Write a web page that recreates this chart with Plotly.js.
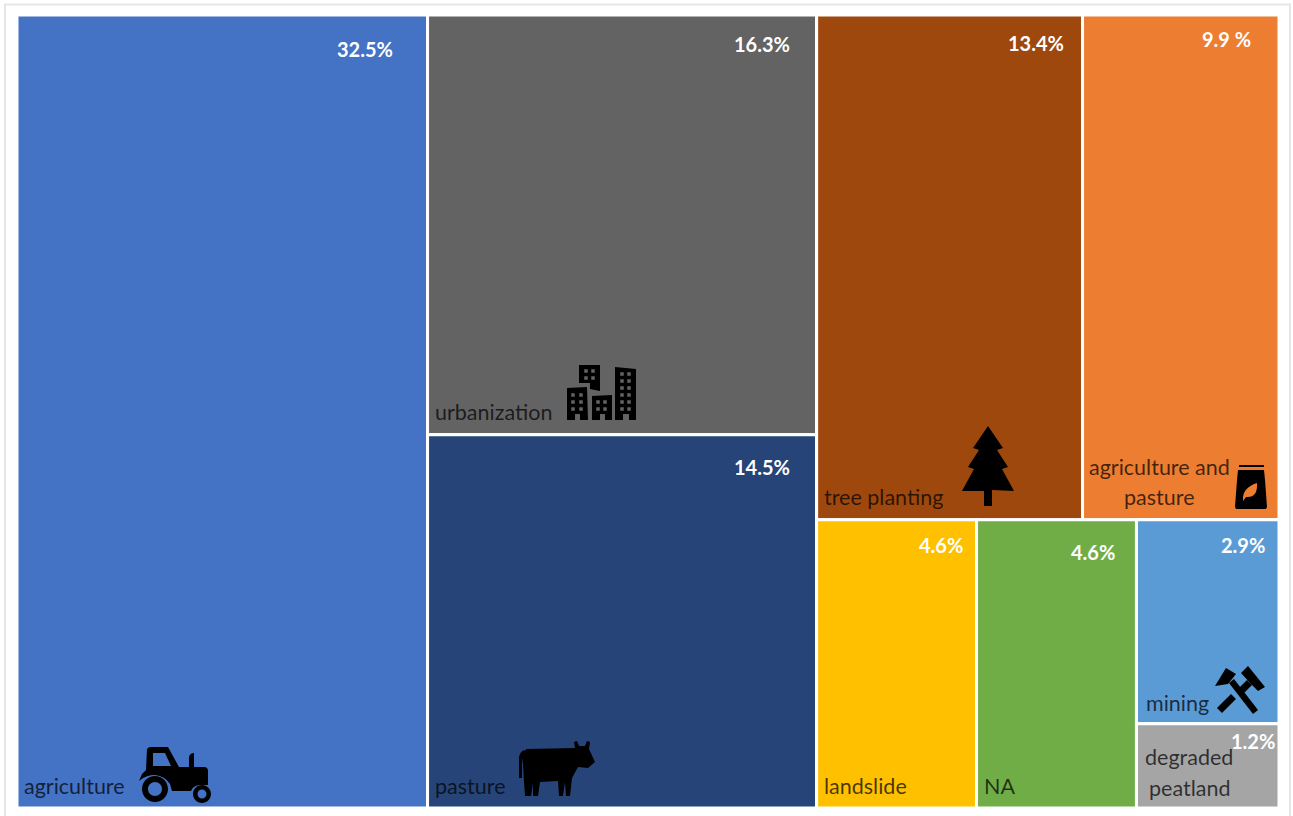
<!DOCTYPE html>
<html>
<head>
<meta charset="utf-8">
<title>Land use share treemap</title>
<script src="https://cdn.plot.ly/plotly-3.0.1.min.js"></script>
<style>html,body{margin:0;padding:0;background:#fff}#chart{width:1293px;height:816px}</style>
</head>
<body>
<div id="chart"></div>
<script>
// Hierarchy of the treemap: grouping nodes carry no value of their own.
const ids = ['root','agriculture','col2','urbanization','pasture','col3','top','tree planting','agriculture and pasture','bottom','landslide','NA','col4','mining','degraded peatland'];
const parents = ['','root','root','col2','col2','root','col3','top','top','col3','bottom','bottom','bottom','col4','col4'];
const values = [0,32.5,0,16.3,14.5,0,0,13.4,9.9,0,4.6,4.6,0,2.9,1.2];
const colours = ['#ffffff','#4472C4','#ffffff','#636363','#264478','#ffffff','#ffffff','#9E480E','#ED7D31','#ffffff','#FFC000','#70AD47','#ffffff','#5B9BD5','#A5A5A5'];

// Share labels, in reading order of the tiles.
const shareLabels = ['32.5%','16.3%','14.5%','13.4%','9.9 %','4.6%','4.6%','2.9%','1.2%'];
const nameLabels = ['agriculture','urbanization','pasture','tree planting','agriculture and','pasture','landslide','NA','mining','degraded','peatland'];

const W = 1293, H = 816;
const M = {l: 17, r: 14, t: 15, b: 8};
const px = x => (x - M.l) / (W - M.l - M.r);
const py = y => 1 - (y - M.t) / (H - M.t - M.b);

// Rewrites an icon outline given in page pixels into paper coordinates.
function toPaper(d) {
  let isX = true;
  return d.replace(/-?\d+(\.\d+)?/g, n => {
    const v = isX ? px(+n) : py(+n);
    isX = !isX;
    return v.toFixed(5);
  });
}
function circle(cx, cy, r) {
  const k = 0.5523 * r;
  return `M${cx - r} ${cy} C${cx - r} ${cy - k} ${cx - k} ${cy - r} ${cx} ${cy - r} C${cx + k} ${cy - r} ${cx + r} ${cy - k} ${cx + r} ${cy} C${cx + r} ${cy + k} ${cx + k} ${cy + r} ${cx} ${cy + r} C${cx - k} ${cy + r} ${cx - r} ${cy + k} ${cx - r} ${cy} Z`;
}
function rect(x, y, w, h) {
  return `M${x} ${y} L${x + w} ${y} L${x + w} ${y + h} L${x} ${y + h} Z`;
}
function windows(xs, ys, s) {
  return xs.flatMap(x => ys.map(y => rect(x - s / 2, y - s / 2, s, s))).join(' ');
}

const icons = [
  // tractor
  'M147 749 Q148 747 151 747 L168 747 L179 767 L189 767 L189 757 Q190 753 194 753 L194 767 L205 767 Q208 768 208 771 L208 785 L199 785 Q193 786 191 791 L172 791 L170 784 Q165 776 155 775 Q146 775 139 781 L142 774 L146 770 Z M153 753 L165 753 L171 766 L153 766 Z',
  circle(155, 789, 13) + ' ' + circle(155, 789, 7),
  circle(202, 794, 9) + ' ' + circle(202, 794, 4.5),
  // buildings
  'M579 365 L600 365 L600 391 L590 389 L590 383 L579 383 Z ' + windows([586, 593], [371, 378], 3.5),
  'M567 388 L587 387 L588 420 L580 420 L580 414 L575 414 L575 420 L567 420 Z ' + windows([573, 581], [395, 402, 409], 3.5),
  'M592 396 L612 395 L612 420 L605 420 L605 414 L600 414 L600 420 L592 420 Z ' + windows([598, 605], [402, 409], 3.5),
  'M615 367 L636 369 L636 420 L629 420 L629 414 L623 414 L623 420 L615 420 Z ' + windows([622, 629], [374, 381, 388, 395, 402, 409], 3.5),
  // cow
  'M527 749 L575 748 L574 742 L577 741 L579 746 L585 746 L587 741 L590 742 L589 749 L595 762 L588 768 L578 767 L572 778 L570 796 L566 796 L565 782 L563 796 L559 796 L558 781 L540 782 L538 796 L533 796 L533 783 L531 796 L525 796 L524 782 L523 764 L522 757 Q522 751 527 749 Z',
  'M519 778 L519 757 Q520 752 524 750 L524 755 L522 760 L522 778 Z',
  // tree
  'M988 426 L1003 448 L997 450 L1008 467 L1002 469 L1014 491 L992 490 L992 506 L984 506 L984 491 L962 491 L974 469 L968 467 L979 450 L973 448 Z',
  // bag with leaf cut-out
  'M1239 465 L1264 465 L1264 467 L1239 467 Z',
  'M1238 470 L1264 470 L1265 480 L1267 507 L1266 509 L1236 509 L1235 507 L1237 480 Z M1243 500 Q1242 488 1257 483 Q1258 498 1246 497 L1243 501 Z',
  // crossed hammers
  'M1229 683 L1234 679 L1258 710 L1253 714 Z',
  'M1215 686 L1226 668 L1236 674 L1228 684 Z',
  'M1217 708 L1231 694 L1236 699 L1222 713 Z M1239 688 L1247 680 L1252 685 L1244 693 Z',
  'M1241 673 L1248 666 L1265 687 L1258 691 L1251 684 Z'
];

const shapes = icons.map(d => ({
  type: 'path', xref: 'paper', yref: 'paper', layer: 'above', path: toPaper(d),
  fillcolor: '#000000', fillrule: 'evenodd', line: {width: 0}
}));
// Thin frame around the figure.
shapes.push({
  type: 'rect', xref: 'paper', yref: 'paper', layer: 'above',
  x0: px(5), x1: px(1290), y0: py(830), y1: py(4.5),
  line: {color: '#e6e6e6', width: 2}
});

const shareSpots = [[395, 49], [792, 44], [792, 467], [1066, 43], [1253, 39], [965, 545], [1117, 552], [1267, 545], [1277, 741]];
const nameSpots = [
  [22, 786, 'left'], [433, 412, 'left'], [433, 786, 'left'], [822, 497, 'left'],
  [1159, 467, 'center'], [1159, 497, 'center'], [822, 786, 'left'], [982, 786, 'left'],
  [1144, 703, 'left'], [1189, 757, 'center'], [1189, 788, 'center']
];

const fontFamily = 'Lato, "Open Sans", sans-serif';
const annotations = [
  ...shareLabels.map((text, i) => ({
    text, xref: 'paper', yref: 'paper', x: px(shareSpots[i][0]), y: py(shareSpots[i][1]),
    xanchor: 'right', yanchor: 'middle', showarrow: false,
    font: {family: fontFamily, size: 20, color: '#ffffff', weight: 700}
  })),
  ...nameLabels.map((text, i) => ({
    text, xref: 'paper', yref: 'paper', x: px(nameSpots[i][0]), y: py(nameSpots[i][1]),
    xanchor: nameSpots[i][2], yanchor: 'middle', showarrow: false,
    font: {family: fontFamily, size: 21.5, color: 'rgba(0,0,0,0.72)'}
  }))
];

Plotly.newPlot('chart', [{
  type: 'treemap',
  ids, parents, values,
  labels: ids,
  branchvalues: 'remainder',
  sort: false,
  textinfo: 'none',
  hoverinfo: 'label+value',
  tiling: {packing: 'slice-dice', pad: 0},
  pathbar: {visible: false},
  marker: {colors: colours, line: {color: '#ffffff', width: 3}, pad: {t: 0, l: 0, r: 0, b: 0}}
}], {
  width: W, height: H,
  margin: M,
  paper_bgcolor: '#ffffff',
  showlegend: false,
  shapes, annotations
}, {displayModeBar: false});
</script>
</body>
</html>
